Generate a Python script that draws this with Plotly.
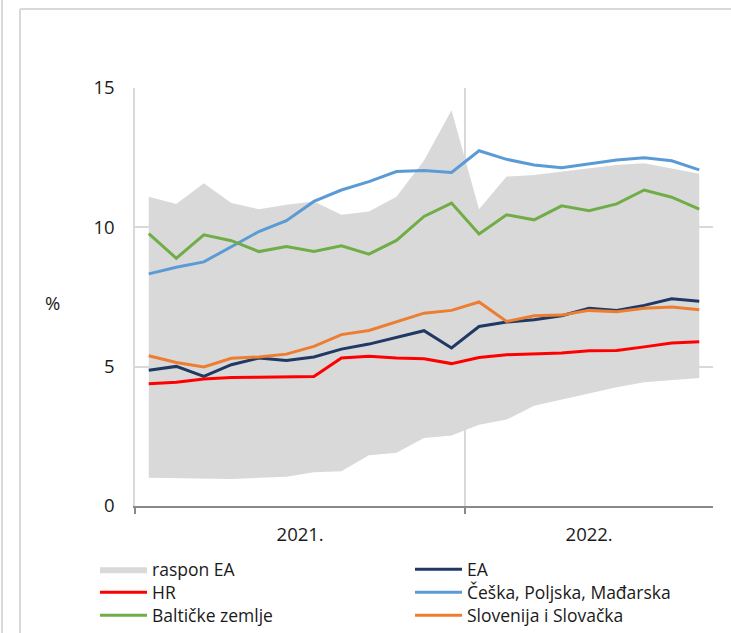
import plotly.graph_objects as go

months = ['2021-01', '2021-02', '2021-03', '2021-04', '2021-05', '2021-06',
          '2021-07', '2021-08', '2021-09', '2021-10', '2021-11', '2021-12',
          '2022-01', '2022-02', '2022-03', '2022-04', '2022-05', '2022-06',
          '2022-07', '2022-08', '2022-09']
year_labels = ['2021.', '2022.']

ea_min = [1.01, 1.00, 0.99, 0.97, 1.01, 1.05, 1.21, 1.25, 1.82, 1.91, 2.44,
          2.53, 2.92, 3.10, 3.60, 3.82, 4.03, 4.26, 4.44, 4.51, 4.59]
ea_max = [11.10, 10.84, 11.58, 10.87, 10.65, 10.81, 10.93, 10.45, 10.57, 11.10, 12.40,
          14.20, 10.65, 11.82, 11.88, 12.00, 12.12, 12.24, 12.30, 12.12, 11.92]
ea = [4.87, 5.01, 4.65, 5.07, 5.31, 5.22, 5.35, 5.63, 5.81, 6.06, 6.29,
      5.67, 6.44, 6.60, 6.68, 6.83, 7.10, 7.02, 7.20, 7.44, 7.35]
hr = [4.39, 4.44, 4.56, 4.61, 4.62, 4.63, 4.65, 5.31, 5.37, 5.31, 5.28,
      5.11, 5.33, 5.43, 5.45, 5.49, 5.57, 5.58, 5.71, 5.85, 5.89]
cz_pl_hu = [8.33, 8.57, 8.76, 9.31, 9.85, 10.24, 10.93, 11.34, 11.64, 12.00, 12.04,
            11.97, 12.75, 12.44, 12.24, 12.14, 12.28, 12.42, 12.50, 12.39, 12.06]
baltic = [9.77, 8.89, 9.73, 9.52, 9.13, 9.31, 9.13, 9.34, 9.04, 9.53, 10.39,
          10.87, 9.76, 10.45, 10.27, 10.77, 10.60, 10.84, 11.34, 11.08, 10.65]
si_sk = [5.39, 5.15, 4.99, 5.30, 5.35, 5.45, 5.73, 6.15, 6.30, 6.62, 6.92,
         7.02, 7.32, 6.62, 6.83, 6.85, 7.02, 6.97, 7.10, 7.14, 7.04]

x = list(range(len(months)))
year_pos = [5.5, 16]
FONT = 'Open Sans'
TXT = '#1a1a1a'

fig = go.Figure()
fig.add_trace(go.Scatter(x=x, y=ea_min, mode='lines', line=dict(width=0, color='#d9d9d9'),
                         showlegend=False, hoverinfo='skip'))
fig.add_trace(go.Scatter(x=x, y=ea_max, mode='lines', fill='tonexty', fillcolor='#d9d9d9',
                         line=dict(width=0, color='#d9d9d9'), name='raspon EA', legend='legend'))
fig.add_trace(go.Scatter(x=x, y=ea, mode='lines', line=dict(width=3, color='#1f3864'),
                         name='EA', legend='legend4'))
fig.add_trace(go.Scatter(x=x, y=hr, mode='lines', line=dict(width=3, color='#ff0000'),
                         name='HR', legend='legend2'))
fig.add_trace(go.Scatter(x=x, y=cz_pl_hu, mode='lines', line=dict(width=3, color='#5b9bd5'),
                         name='Češka, Poljska, Mađarska', legend='legend5'))
fig.add_trace(go.Scatter(x=x, y=baltic, mode='lines', line=dict(width=3, color='#70ad47'),
                         name='Baltičke zemlje', legend='legend3'))
fig.add_trace(go.Scatter(x=x, y=si_sk, mode='lines', line=dict(width=3, color='#ed7d31'),
                         name='Slovenija i Slovačka', legend='legend6'))

W, H = 731, 633
L, R, T, B = 135, 18, 88, 126.5
pw, ph = W - L - R, H - T - B

def px(v):
    return (v - L) / pw

def py(v):
    return (H - B - v) / ph

legend_common = dict(font=dict(family=FONT, size=17.5, color=TXT), bgcolor='rgba(0,0,0,0)',
                     itemwidth=47, yanchor='top', xanchor='left', itemclick=False)

row_tops = [552, 575, 598]
col_x = [95, 410]
legends = {}
for c in range(2):
    for r in range(3):
        key = 'legend' if (c == 0 and r == 0) else 'legend%d' % (c * 3 + r + 1)
        legends[key] = dict(x=px(col_x[c]), y=py(row_tops[r]), **legend_common)

fig.update_layout(
    width=W, height=H,
    margin=dict(l=L, r=R, t=T, b=B, autoexpand=False),
    paper_bgcolor='white', plot_bgcolor='white',
    font=dict(family=FONT, size=18.5, color=TXT),
    xaxis=dict(range=[-0.5, 20.5], tickmode='array', tickvals=year_pos, ticktext=year_labels,
               ticks='', showgrid=False, zeroline=False, showline=True, linecolor='#898989',
               linewidth=1.5, ticklabelstandoff=11, tickfont=dict(size=18.5, color=TXT),
               minor=dict(tickmode='array', tickvals=[-0.5, 11.5], ticks='outside', ticklen=6,
                          tickcolor='#898989', tickwidth=1.5, showgrid=True,
                          gridcolor='#d9d9d9', gridwidth=1.5)),
    yaxis=dict(range=[0, 15], tickmode='array', tickvals=[0, 5, 10, 15], ticks='',
               showgrid=True, gridcolor='#d9d9d9', gridwidth=1.5, zeroline=False,
               showline=True, linecolor='#d9d9d9', linewidth=1.5, ticklabelstandoff=15,
               tickfont=dict(size=18.5, color=TXT)),
    annotations=[dict(text='%', x=px(52), y=py(303), xref='paper', yref='paper',
                      xanchor='center', yanchor='middle', showarrow=False,
                      font=dict(family=FONT, size=18.5, color=TXT))],
    shapes=[
        dict(type='line', xref='paper', yref='paper', x0=px(2), x1=px(2), y0=py(-5), y1=py(640),
             line=dict(color='#d9d9d9', width=2)),
        dict(type='line', xref='paper', yref='paper', x0=px(20), x1=px(20), y0=py(9), y1=py(640),
             line=dict(color='#d9d9d9', width=2)),
        dict(type='line', xref='paper', yref='paper', x0=px(20), x1=px(740), y0=py(9), y1=py(9),
             line=dict(color='#d9d9d9', width=2)),
    ],
    **legends,
)

fig.write_html('out.html', config={'displayModeBar': False},
               post_script="document.body.style.margin='0';")
